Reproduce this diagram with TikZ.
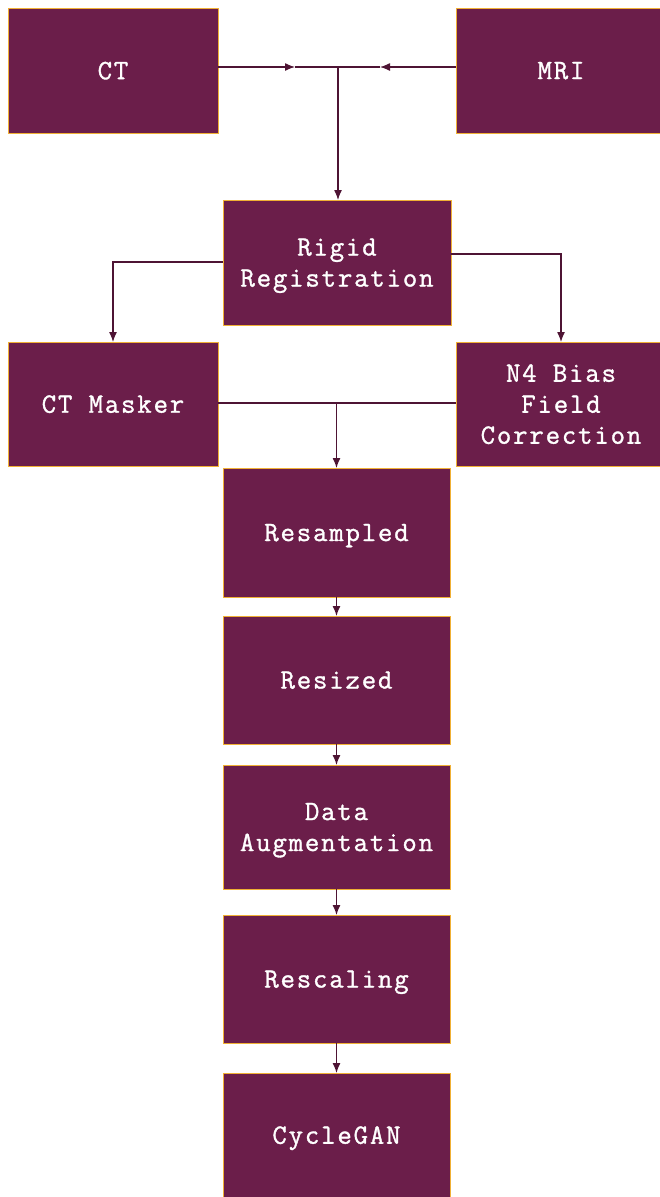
\documentclass[tikz,border=0pt]{standalone}
\usepackage{fontspec}
\newfontfamily\boxfont{Latin Modern Mono}[LetterSpace=6.5, FakeBold=1.2]
\usetikzlibrary{arrows.meta}
\definecolor{boxfill}{HTML}{6B1E4A}
\definecolor{boxedge}{HTML}{F0B035}
\definecolor{linec}{HTML}{4E1434}
\begin{document}
\begin{tikzpicture}[x=1pt,y=-1pt,
  box/.style={draw=boxedge, fill=boxfill, line width=1pt, text=white,
    font=\boxfont\fontsize{28}{31}\selectfont, align=center, text depth=-4pt,
    inner sep=0pt, outer sep=0pt, minimum width=227pt, minimum height=125pt},
  conn/.style={draw=linec, line width=1.3pt},
  arr/.style={conn, -{Latex[length=10pt,width=8pt]}}]
\useasboundingbox (0,0) rectangle (659,1197);
\fill[white] (0,0) rectangle (659,1197);
% boxes
\node[box, minimum width=210pt] (ct) at (113,70.5) {CT};
\node[box, minimum width=210pt] (mri) at (561,70.5) {MRI};
\node[box, minimum width=228pt] (rigid) at (337,262.5) {Rigid\\Registration};
\node[box, minimum width=210pt, minimum height=124pt] (mask) at (113,404) {CT Masker};
\node[box, minimum width=210pt, minimum height=124pt] (n4) at (561,404) {N4 Bias\\Field\\Correction};
\node[box, minimum height=129pt] (resamp) at (336.5,532.5) {Resampled};
\node[box, minimum height=128pt] (resiz) at (336.5,680) {Resized};
\node[box, minimum height=124pt] (aug) at (336.5,827) {Data\\Augmentation};
\node[box, minimum height=128pt] (resc) at (336.5,979) {Rescaling};
\node[box, minimum height=124pt] (cyc) at (336.5,1135) {CycleGAN};
% junctions
\coordinate (j1) at (338,67);
\coordinate (a1) at (295,67);
\coordinate (a2) at (380,67);
\coordinate (l1) at (113,262);
\coordinate (r1) at (561,254);
\coordinate (j2) at (336.5,403);
% connectors
\draw[arr] (ct.east |- j1) -- (a1);
\draw[conn] (a1) -- (j1);
\draw[arr] (mri.west |- j1) -- (a2);
\draw[conn] (a2) -- (j1);
\draw[arr] (j1) -- (j1 |- rigid.north);
\draw[arr] (rigid.west |- l1) -- (l1) -- (mask.north);
\draw[arr] (rigid.east |- r1) -- (r1) -- (n4.north);
\draw[conn] (mask.east |- j2) -- (n4.west |- j2);
\draw[arr] (j2) -- (resamp.north);
\draw[arr] (resamp.south) -- (resiz.north);
\draw[arr] (resiz.south) -- (aug.north);
\draw[arr] (aug.south) -- (resc.north);
\draw[arr] (resc.south) -- (cyc.north);
\end{tikzpicture}
\end{document}
